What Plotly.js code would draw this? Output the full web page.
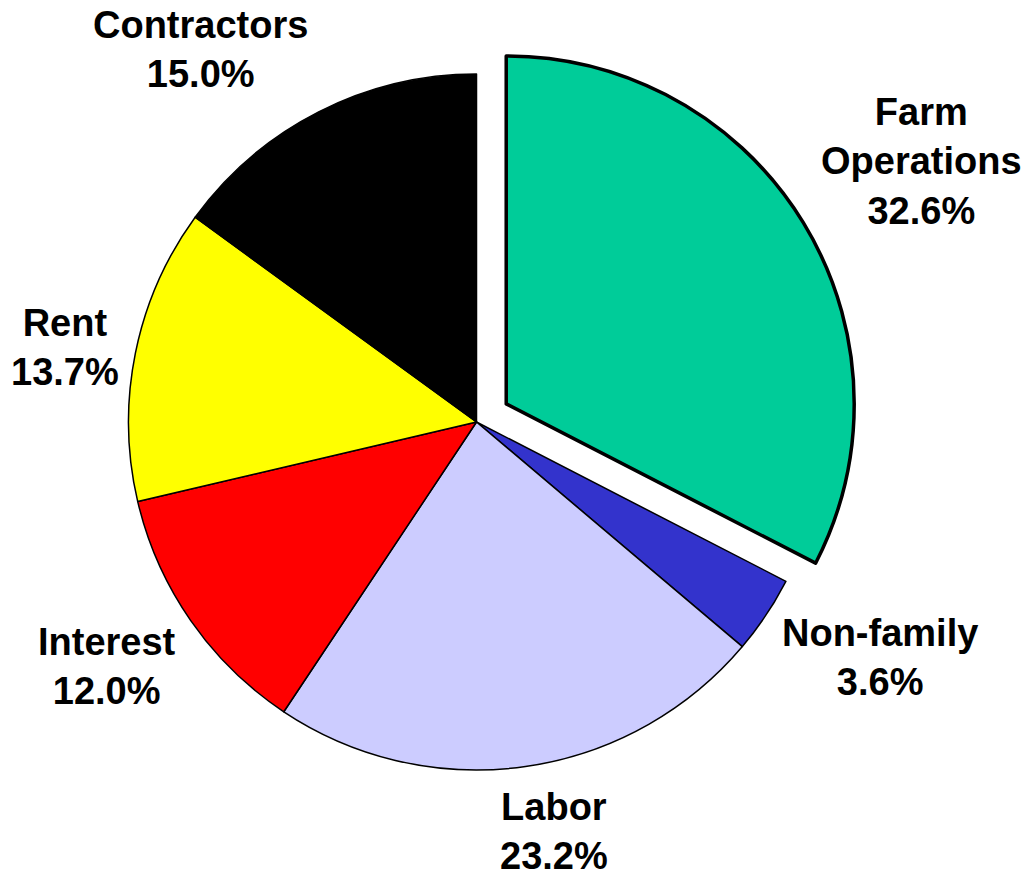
<!DOCTYPE html>
<html>
<head>
<meta charset="utf-8">
<script src="https://cdn.plot.ly/plotly-3.0.1.min.js"></script>
<style>html,body{margin:0;padding:0;background:#fff;}#chart{width:1028px;height:876px;}</style>
</head>
<body>
<div id="chart"></div>
<script>
// Data
const categories = ['Farm Operations', 'Non-family', 'Labor', 'Interest', 'Rent', 'Contractors'];
const shares = [32.6, 3.6, 23.2, 12.0, 13.7, 15.0];
const sliceColors = ['#00CC99', '#3333CC', '#CCCCFF', '#FF0000', '#FFFF00', '#000000'];
const pulls = [0.1, 0, 0, 0, 0, 0];
const outlineWidths = [3.5, 1.5, 1.5, 1.5, 1.5, 1.5];

// Label placement (paper fractions of centre point)
const labelPos = [
  [921 / 1028, 1 - 162 / 876],
  [880 / 1028, 1 - 657 / 876],
  [554 / 1028, 1 - 831 / 876],
  [107 / 1028, 1 - 666 / 876],
  [65 / 1028, 1 - 347 / 876],
  [200 / 1028, 1 - 49 / 876]
];

const displayNames = categories.map(c => c === 'Farm Operations' ? 'Farm<br>Operations' : c);

const annotations = categories.map((c, i) => ({
  xref: 'paper', yref: 'paper',
  x: labelPos[i][0], y: labelPos[i][1],
  xanchor: 'center', yanchor: 'middle',
  text: displayNames[i] + '<br>' + shares[i].toFixed(1) + '%',
  showarrow: false,
  align: 'center',
  font: {family: 'Liberation Sans, Arial, sans-serif', size: 38, color: '#000', weight: 'bold'}
}));

const trace = {
  type: 'pie',
  labels: categories,
  values: shares,
  sort: false,
  direction: 'clockwise',
  rotation: 0,
  pull: pulls,
  textinfo: 'none',
  hoverinfo: 'label+percent',
  marker: {colors: sliceColors, line: {color: '#000000', width: outlineWidths}},
  domain: {x: [0.09115, 0.83590], y: [0.08128, 0.95525]},
  showlegend: false
};

const layout = {
  width: 1028, height: 876,
  margin: {l: 0, r: 0, t: 0, b: 0},
  paper_bgcolor: '#ffffff',
  plot_bgcolor: '#ffffff',
  showlegend: false,
  annotations: annotations
};

Plotly.newPlot('chart', [trace], layout, {displayModeBar: false, staticPlot: true});
</script>
</body>
</html>
